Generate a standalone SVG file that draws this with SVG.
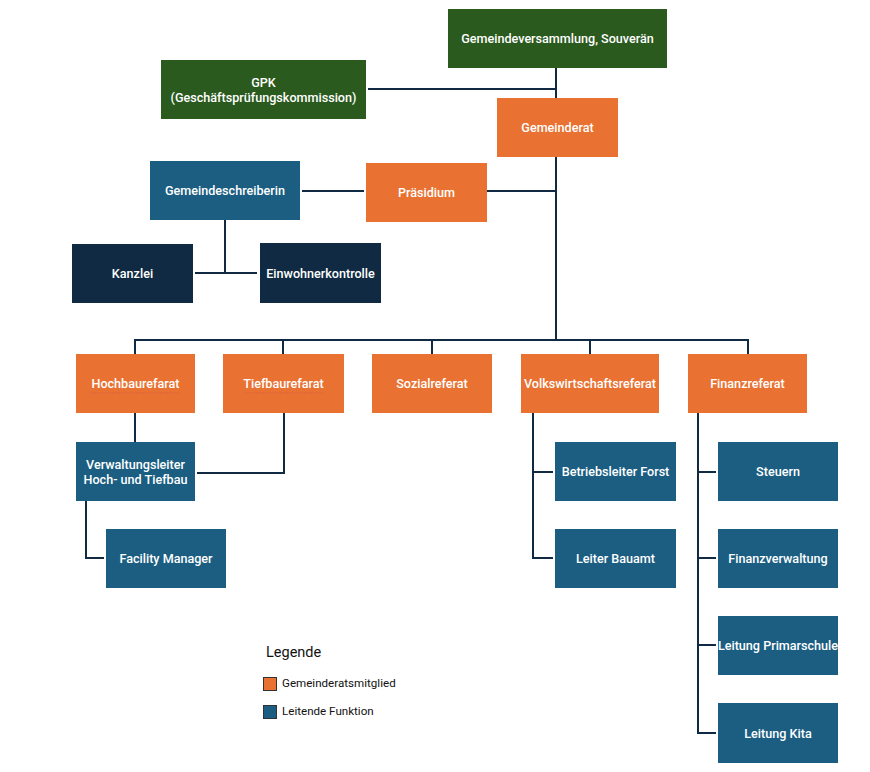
<svg xmlns="http://www.w3.org/2000/svg" width="870" height="772" viewBox="0 0 870 772">
<style>
.g{fill:#2B5A1E}
.o{fill:#E97132}
.b{fill:#1B5E82}
.n{fill:#0F2A42}
text{font-family:Roboto,"Liberation Sans",sans-serif;font-size:12.6px;font-weight:500;fill:#fff;text-anchor:middle;dominant-baseline:central}
.c{fill:none;stroke:#0F2A42;stroke-width:2}
.lg{fill:#111;text-anchor:start;font-weight:400}
.sq{stroke:#333;stroke-width:1}
.ul{stroke:#d9534f;stroke-width:1;stroke-dasharray:1.5 1.5;opacity:.6}
</style>
<rect width="870" height="772" fill="#fff"/>
<g id="connectors" class="c">
<path d="M556 68V98M368 89H556"/>
<path d="M302 191H364M487 191H556M556 157V340"/>
<path d="M225 220V273M195 273H257"/>
<path d="M135 354V340H748V354M283 340V354M432 340V354M590 340V354"/>
<path d="M135 413V442M284 413V473H197"/>
<path d="M86 501V558H104"/>
<path d="M533 413V558H553M533 472H553"/>
<path d="M698 413V733H716M698 472H716M698 558H716M698 645H716"/>
</g>
<g id="gemeindeversammlung"><rect class="g" x="448" y="9" width="219" height="59"/><text x="557.5" y="38.5">Gemeindeversammlung, Souverän</text></g>
<g id="gpk"><rect class="g" x="161" y="60" width="205" height="59"/><text x="263.5" y="82">GPK</text><text x="263.5" y="97">(Geschäftsprüfungskommission)</text></g>
<g id="gemeinderat"><rect class="o" x="497" y="98" width="121" height="59"/><text x="557.5" y="127.5">Gemeinderat</text></g>
<g id="gemeindeschreiberin"><rect class="b" x="150" y="161" width="150" height="59"/><text x="225" y="190.5">Gemeindeschreiberin</text></g>
<g id="praesidium"><rect class="o" x="366" y="163" width="121" height="59"/><text x="426.5" y="192">Präsidium</text></g>
<g id="kanzlei"><rect class="n" x="72" y="244" width="121" height="59"/><text x="132.5" y="273.5">Kanzlei</text></g>
<g id="einwohnerkontrolle"><rect class="n" x="260" y="243" width="121" height="60"/><text x="320.5" y="273">Einwohnerkontrolle</text></g>
<g id="hochbaurefarat"><rect class="o" x="76" y="354" width="119" height="59"/><text x="135.5" y="383.5">Hochbaurefarat</text><line class="ul" x1="91" y1="393" x2="180" y2="393"/></g>
<g id="tiefbaurefarat"><rect class="o" x="223" y="354" width="121" height="59"/><text x="283.5" y="383.5">Tiefbaurefarat</text><line class="ul" x1="244" y1="393" x2="323" y2="393"/></g>
<g id="sozialreferat"><rect class="o" x="372" y="354" width="120" height="59"/><text x="432" y="383.5">Sozialreferat</text></g>
<g id="volkswirtschaftsreferat"><rect class="o" x="521" y="354" width="138" height="59"/><text x="590" y="383.5">Volkswirtschaftsreferat</text></g>
<g id="finanzreferat"><rect class="o" x="688" y="354" width="119" height="59"/><text x="747.5" y="383.5">Finanzreferat</text></g>
<g id="verwaltungsleiter"><rect class="b" x="76" y="442" width="119" height="59"/><text x="135.5" y="464">Verwaltungsleiter</text><text x="135.5" y="479">Hoch- und Tiefbau</text></g>
<g id="facility"><rect class="b" x="106" y="529" width="120" height="59"/><text x="166" y="558.5">Facility Manager</text></g>
<g id="forst"><rect class="b" x="555" y="442" width="121" height="59"/><text x="615.5" y="471.5">Betriebsleiter Forst</text></g>
<g id="bauamt"><rect class="b" x="555" y="529" width="121" height="59"/><text x="615.5" y="558.5">Leiter Bauamt</text></g>
<g id="steuern"><rect class="b" x="718" y="442" width="120" height="59"/><text x="778" y="471.5">Steuern</text></g>
<g id="finanzverwaltung"><rect class="b" x="718" y="529" width="120" height="59"/><text x="778" y="558.5">Finanzverwaltung</text></g>
<g id="primarschule"><rect class="b" x="718" y="616" width="120" height="59"/><text x="778" y="645.5">Leitung Primarschule</text></g>
<g id="kita"><rect class="b" x="718" y="703" width="120" height="60"/><text x="778" y="733">Leitung Kita</text></g>
<g id="legende">
<text class="lg" x="266" y="652" style="font-size:14.5px">Legende</text>
<rect class="o sq" x="263.5" y="677.5" width="13" height="13"/>
<text class="lg" x="282" y="683" style="font-size:11.6px">Gemeinderatsmitglied</text>
<rect class="b sq" x="263.5" y="705.5" width="13" height="13"/>
<text class="lg" x="282" y="711" style="font-size:11.6px">Leitende Funktion</text>
</g>
</svg>
